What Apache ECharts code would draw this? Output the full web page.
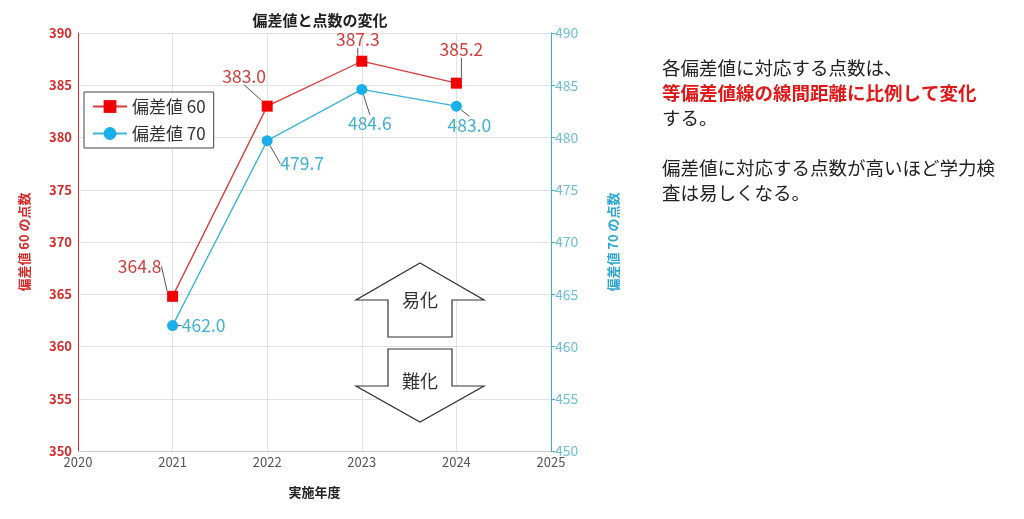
<!DOCTYPE html>
<html><head><meta charset="utf-8">
<script src="https://cdn.jsdelivr.net/npm/echarts@6/dist/echarts.min.js"></script>
<style>html,body{margin:0;padding:0;background:#fff}#c{width:1024px;height:519px}</style>
</head><body><div id="c"></div>
<script>
const years = [2021, 2022, 2023, 2024];
const score60 = [364.8, 383.0, 387.3, 385.2];
const score70 = [462.0, 479.7, 484.6, 483.0];
const name60 = '偏差値 60';
const name70 = '偏差値 70';
const labelOff60 = [[-33,-30],[-23,-30],[-4,-22],[5,-34]];
const labelOff70 = [[31,0],[35,23],[8,34],[13,19]];
const FONT = '"Noto Sans CJK JP", "Noto Sans", sans-serif';

const chart = echarts.init(document.getElementById('c'), null, {renderer:'canvas'});
function pairs(vals){ return years.map((y,i)=>[y, vals[i]]); }
function layoutFor(offs){
  return function(p){ const o = offs[p.dataIndex]; return {dx:o[0], dy:o[1]}; };
}
const option = {
  backgroundColor:'#fff',
  textStyle:{fontFamily:FONT},
  title:{text:'偏差値と点数の変化', left:315, top:8, textAlign:'center',
    textStyle:{fontSize:15, fontWeight:'bold', color:'#222', fontFamily:FONT}},
  grid:{left:78, right:473, top:33, bottom:68},
  legend:{orient:'vertical', left:84, top:92, itemWidth:34, itemHeight:16, itemGap:10,
    padding:[6,8,6,8], borderColor:'#444', borderWidth:1, backgroundColor:'#fff',
    textStyle:{fontSize:17, color:'#333', fontFamily:FONT},
    data:[name60, name70]},
  xAxis:{type:'value', min:2020, max:2025, interval:1,
    name:'実施年度', nameLocation:'middle', nameGap:35,
    nameTextStyle:{fontSize:13, fontWeight:'bold', color:'#222', fontFamily:FONT},
    axisLine:{show:true, lineStyle:{color:'#ccc'}}, axisTick:{show:false},
    axisLabel:{color:'#555', fontSize:13, margin:5, formatter:v=>String(v)},
    splitLine:{show:true, lineStyle:{color:'#e2e2e2'}}},
  yAxis:[
    {type:'value', min:350, max:390, interval:5, position:'left',
     name:'偏差値 60 の点数', nameLocation:'middle', nameGap:47,
     nameTextStyle:{fontSize:13, fontWeight:'bold', color:'#d42a2a', fontFamily:FONT},
     axisLine:{show:true, lineStyle:{color:'#d42a2a'}}, axisTick:{show:false},
     axisLabel:{color:'#d42a2a', fontSize:13, fontWeight:'bold', margin:6},
     splitLine:{show:true, lineStyle:{color:'#e2e2e2'}}},
    {type:'value', min:450, max:490, interval:5, position:'right',
     name:'偏差値 70 の点数', nameLocation:'middle', nameGap:56, nameRotate:90,
     nameTextStyle:{fontSize:13, fontWeight:'bold', color:'#2aa6d2', fontFamily:FONT},
     axisLine:{show:true, lineStyle:{color:'#3aaed4'}},
     axisTick:{show:true, length:4, lineStyle:{color:'#3aaed4'}},
     axisLabel:{color:'#6cbfd6', fontSize:14, margin:4},
     splitLine:{show:false}}
  ],
  series:[
    {name:name60, type:'line', yAxisIndex:0, data:pairs(score60),
     symbol:'rect', symbolSize:11,
     lineStyle:{color:'#d63a3a', width:1.3},
     itemStyle:{color:'#f00000'},
     label:{show:true, position:'inside', color:'#d23c3c', fontSize:17.5,
       formatter:p=>p.value[1].toFixed(1)},
     labelLayout:layoutFor(labelOff60),
     labelLine:{show:true, lineStyle:{color:'#555', width:1}},
     emphasis:{disabled:true}, z:3},
    {name:name70, type:'line', yAxisIndex:1, data:pairs(score70),
     symbol:'circle', symbolSize:11,
     lineStyle:{color:'#3ab4d8', width:1.3},
     itemStyle:{color:'#1aaeea'},
     label:{show:true, position:'inside', color:'#40b0d2', fontSize:17.5,
       formatter:p=>p.value[1].toFixed(1)},
     labelLayout:layoutFor(labelOff70),
     labelLine:{show:true, lineStyle:{color:'#555', width:1}},
     emphasis:{disabled:true}, z:3}
  ],
  graphic:[
    {type:'polygon', shape:{points:[[420,263],[484,300],[452,300],[452,337],[388,337],[388,300],[356,300]]},
     style:{fill:'#fff', stroke:'#333', lineWidth:1.2}, z:10},
    {type:'text', x:420, y:300, style:{text:'易化', fill:'#333', font:'18px '+FONT, align:'center', verticalAlign:'middle'}, z:11},
    {type:'polygon', shape:{points:[[388,349],[452,349],[452,386],[484,386],[420,422],[356,386],[388,386]]},
     style:{fill:'#fff', stroke:'#333', lineWidth:1.2}, z:10},
    {type:'text', x:420, y:381, style:{text:'難化', fill:'#333', font:'18px '+FONT, align:'center', verticalAlign:'middle'}, z:11},
    {type:'text', left:662, top:55, style:{
      text:'各偏差値に対応する点数は、\n{r|等偏差値線の線間距離に比例して変化}\nする。\n\n偏差値に対応する点数が高いほど学力検\n査は易しくなる。',
      font:'18.5px '+FONT, fill:'#222', lineHeight:25,
      rich:{r:{fill:'#e01818', fontWeight:'bold', fontSize:18.5, fontFamily:FONT, lineHeight:25}}}}
  ]
};
chart.setOption(option);
</script></body></html>
